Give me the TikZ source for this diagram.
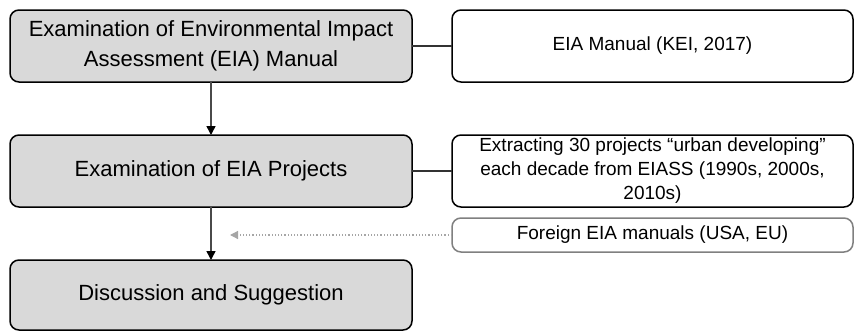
\documentclass[tikz,border=0pt]{standalone}
\usepackage{fontspec}
\setmainfont{Liberation Sans}
\usetikzlibrary{arrows.meta}
\definecolor{boxgray}{HTML}{D9D9D9}
\definecolor{linegray}{HTML}{4A4A4A}
\tikzset{
  mainbox/.style={draw=black, fill=boxgray, line width=1.5pt, rounded corners=9pt,
    minimum width=402pt, inner sep=0pt, outer sep=0pt, align=center,
    font=\fontsize{22}{30}\selectfont},
  sidebox/.style={draw=black, fill=white, line width=1.5pt, rounded corners=9pt,
    minimum width=401pt, inner sep=0pt, outer sep=0pt, align=center,
    font=\fontsize{19}{24}\selectfont},
  flow/.style={draw=linegray, line width=1.5pt, -{Triangle[width=9pt,length=9pt,color=black]}},
  link/.style={draw=black!80, line width=1.2pt},
  hint/.style={draw=gray!70, line width=1.2pt, dotted, -{Triangle[width=8pt,length=8pt]}}
}
\begin{document}
\begin{tikzpicture}[x=1pt,y=-1pt]
\useasboundingbox (0,0) rectangle (854,332);
\node[mainbox, minimum height=72pt] (m1) at (211,46) {Examination of Environmental Impact\\Assessment (EIA) Manual};
\node[mainbox, minimum height=72pt] (m2) at (211,171) {Examination of EIA Projects};
\node[mainbox, minimum height=70pt] (m3) at (211,295) {Discussion and Suggestion};
\node[sidebox, minimum height=72pt] (s1) at (652.5,46) {EIA Manual (KEI, 2017)};
\node[sidebox, minimum height=72pt] (s2) at (652.5,171) {Extracting 30 projects “urban developing”\\each decade from EIASS (1990s, 2000s,\\2010s)};
\node[sidebox, draw=gray, minimum height=34pt] (s3) at (652.5,235) {Foreign EIA manuals (USA, EU)};
\coordinate (hintend) at (230,235);
\draw[flow] (m1) -- (m2);
\draw[flow] (m2) -- (m3);
\draw[link] (m1) -- (s1);
\draw[link] (m2) -- (s2);
\draw[hint] (s3) -- (hintend);
\end{tikzpicture}
\end{document}
